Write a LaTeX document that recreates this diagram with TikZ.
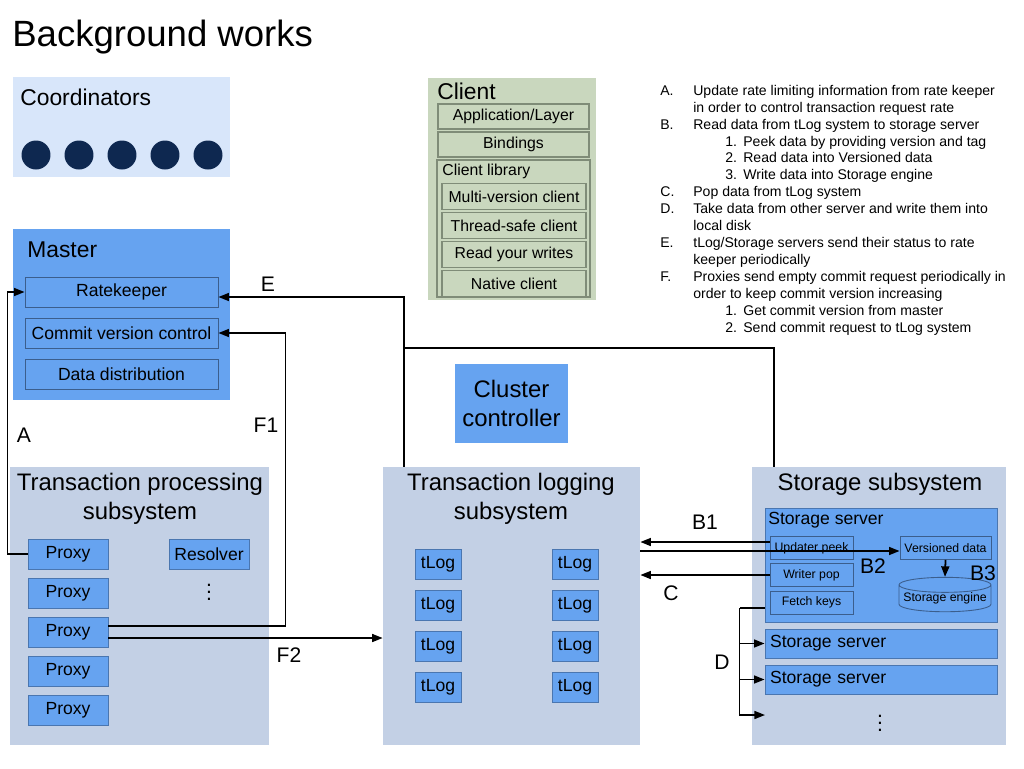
\documentclass[tikz,border=0pt]{standalone}
\usepackage{fontspec}
\setmainfont{Liberation Sans}
\usetikzlibrary{arrows.meta,positioning,shapes.geometric}
\definecolor{panelc}{HTML}{C3D0E5}
\definecolor{coordc}{HTML}{D8E6FA}
\definecolor{clientc}{HTML}{C9D7BE}
\definecolor{bluec}{HTML}{66A3F0}
\definecolor{bluel}{HTML}{4A76B0}
\definecolor{navyc}{HTML}{0E2850}
\definecolor{clinec}{HTML}{7F8C78}

\begin{document}
\begin{tikzpicture}[x=0.02cm, y=-0.02cm,
  blk/.style={fill=bluec, draw=bluel, line width=0.5pt, inner sep=0pt,
              font=\fontsize{10}{12}\selectfont},
  part/.style={draw=bluel!80!black, line width=0.5pt, inner sep=0pt,
               font=\fontsize{10}{12}\selectfont},
  cbox/.style={draw=clinec, line width=0.6pt, inner sep=0pt,
               font=\fontsize{9}{11}\selectfont},
  head/.style={anchor=west, inner sep=0pt, font=\fontsize{13}{15}\selectfont},
  big/.style={align=center, inner sep=0pt, font=\fontsize{13.6}{16.4}\selectfont},
  small/.style={font=\fontsize{7}{8.4}\selectfont},
  lab/.style={inner sep=0pt, font=\fontsize{12}{14}\selectfont},
  conn/.style={line width=1pt},
  >={Triangle[length=6pt,width=4.5pt]}]
\useasboundingbox (0,0) rectangle (1024,768);

\node[anchor=west, inner sep=0pt, font=\fontsize{20.8}{25}\selectfont] (title) at (12,37) {Background works};

% coordinators
\node[fill=coordc, minimum width=4.34cm, minimum height=2cm] (coords) at (121.5,127) {};
\node[head] (coordslbl) at (20,97) {Coordinators};
\foreach \i in {0,...,4}
  \node[circle, fill=navyc, minimum size=0.58cm, inner sep=0pt] (c\i) at (36+43*\i,155) {};

% master
\node[fill=bluec, minimum width=4.34cm, minimum height=3.42cm] (master) at (121.5,314.5) {};
\node[head] (masterlbl) at (27,250) {Master};
\node[part, minimum width=3.86cm, minimum height=0.6cm] (rate) at (121.5,292) {Ratekeeper};
\node[part, minimum width=3.86cm, minimum height=0.6cm] (commit) at (121.5,333) {Commit version control};
\node[part, minimum width=3.86cm, minimum height=0.6cm] (dist) at (121.5,374) {Data distribution};

% client
\node[fill=clientc, minimum width=3.36cm, minimum height=4.44cm] (client) at (512,189) {};
\node[head] (clientlbl) at (437,91) {Client};
\node[cbox, minimum width=3.02cm, minimum height=0.5cm] (app) at (513.5,116.5) {Application/Layer};
\node[cbox, minimum width=3.02cm, minimum height=0.5cm] (bind) at (513.5,144.5) {Bindings};
\node[cbox, minimum width=3.06cm, minimum height=2.74cm] (lib) at (513.5,228.5) {};
\node[anchor=west, inner sep=0pt, font=\fontsize{9}{11}\selectfont] (liblbl) at (442,171) {Client library};
\node[cbox, minimum width=2.88cm, minimum height=0.52cm] (mv) at (514,196.5) {Multi-version client};
\node[cbox, minimum width=2.88cm, minimum height=0.52cm] (ts) at (514,225.5) {Thread-safe client};
\node[cbox, minimum width=2.88cm, minimum height=0.52cm] (ryw) at (514,254.5) {Read your writes};
\node[cbox, minimum width=2.88cm, minimum height=0.52cm] (nat) at (514,283.5) {Native client};

% notes
\node[anchor=north west, inner sep=0pt, font=\fontsize{8}{9.64}\selectfont] (notes) at (660,83) {%
\begin{tabular}{@{}p{0.66cm}@{}p{1cm}@{}l@{}}
A. & \multicolumn{2}{@{}l@{}}{Update rate limiting information from rate keeper}\\
   & \multicolumn{2}{@{}l@{}}{in order to control transaction request rate}\\
B. & \multicolumn{2}{@{}l@{}}{Read data from tLog system to storage server}\\
   & \hspace*{0.64cm}1. & Peek data by providing version and tag\\
   & \hspace*{0.64cm}2. & Read data into Versioned data\\
   & \hspace*{0.64cm}3. & Write data into Storage engine\\
C. & \multicolumn{2}{@{}l@{}}{Pop data from tLog system}\\
D. & \multicolumn{2}{@{}l@{}}{Take data from other server and write them into}\\
   & \multicolumn{2}{@{}l@{}}{local disk}\\
E. & \multicolumn{2}{@{}l@{}}{tLog/Storage servers send their status to rate}\\
   & \multicolumn{2}{@{}l@{}}{keeper periodically}\\
F. & \multicolumn{2}{@{}l@{}}{Proxies send empty commit request periodically in}\\
   & \multicolumn{2}{@{}l@{}}{order to keep commit version increasing}\\
   & \hspace*{0.64cm}1. & Get commit version from master\\
   & \hspace*{0.64cm}2. & Send commit request to tLog system
\end{tabular}};

% cluster controller
\node[fill=bluec, big, minimum width=2.26cm, minimum height=1.58cm] (cc) at (511.5,403.5) {Cluster\\controller};

% transaction processing
\node[fill=panelc, minimum width=5.18cm, minimum height=5.56cm] (tps) at (139.5,606) {};
\node[big] (tpslbl) at (140,498.5) {Transaction processing\\subsystem};
\foreach \i/\y in {1/554,2/593,3/632,4/671,5/710}
  \node[blk, minimum width=1.6cm, minimum height=0.6cm] (p\i) at (68,\y) {Proxy};
\node[blk, minimum width=1.6cm, minimum height=0.6cm] (res) at (209,554) {Resolver};
\node[inner sep=0pt, font=\fontsize{12}{14}\selectfont] (resdots) at (209,587) {$\vdots$};

% transaction logging
\node[fill=panelc, minimum width=5.14cm, minimum height=5.56cm] (tls) at (511.5,606) {};
\node[big] (tlslbl) at (511,498.5) {Transaction logging\\subsystem};
\foreach \i/\y in {1/564,2/605,3/646,4/687} {
  \node[blk, minimum width=0.92cm, minimum height=0.6cm] (la\i) at (438,\y) {tLog};
  \node[blk, minimum width=0.92cm, minimum height=0.6cm] (lb\i) at (575,\y) {tLog};
}

% storage
\node[fill=panelc, minimum width=5.08cm, minimum height=5.56cm] (sts) at (879,606) {};
\node[big] (stslbl) at (880,484) {Storage subsystem};
\node[blk, minimum width=4.64cm, minimum height=2.28cm] (ss1) at (881,565) {};
\node[anchor=west, inner sep=0pt, font=\fontsize{10}{12}\selectfont] (ss1lbl) at (768,520) {Storage server};
\node[part, small, minimum width=1.66cm, minimum height=0.46cm] (upd) at (811.5,548) {Updater peek};
\node[part, small, minimum width=1.66cm, minimum height=0.46cm] (wpop) at (811.5,575) {Writer pop};
\node[part, small, minimum width=1.66cm, minimum height=0.46cm] (fetch) at (811.5,602.5) {Fetch keys};
\node[part, small, minimum width=1.82cm, minimum height=0.46cm] (ver) at (945.5,548) {Versioned data};
\node[part, small, cylinder, shape border rotate=90, aspect=0.18,
      minimum width=1.84cm, minimum height=0.62cm] (eng) at (945,598.5) {Storage engine};
\node[blk, minimum width=4.64cm, minimum height=0.58cm, text width=4.44cm, align=left] (ss2) at (881,643.5) {Storage server};
\node[blk, minimum width=4.64cm, minimum height=0.58cm, text width=4.44cm, align=left] (ss3) at (881,679.5) {Storage server};
\node[inner sep=0pt, font=\fontsize{12}{14}\selectfont] (ssdots) at (880,718) {$\vdots$};

% connectors
\coordinate (ejoin) at (404,348);
\coordinate (dmore) at (765,715);
\draw[conn,->] (p1.west) -- ++(-20,0) |- (rate.west);
\draw[conn,->] ([yshift=0.12cm]p3.east) -- ++(177,0) |- (commit.east);
\draw[conn,->] ([yshift=-0.12cm]p3.east) -- ([yshift=-0.12cm]p3.east -| tls.west);
\draw[conn,->] ([xshift=0.42cm]tls.north west) |- ([yshift=-0.1cm]rate.east);
\draw[conn] ([xshift=0.44cm]sts.north west) |- (ejoin);
\draw[conn,->] ([yshift=0.12cm]upd.west) -- ([yshift=0.12cm]upd.west -| tls.east);
\draw[conn,->] ([yshift=-0.06cm]ver.west -| tls.east) -- ([yshift=-0.06cm]ver.west);
\draw[conn,->] (wpop.west) -- (wpop.west -| tls.east);
\draw[conn,->] (ver.south) -- (eng.north);
\draw[conn] ([yshift=-0.86cm]ss1.west) -- ++(-25,0) coordinate (dtop);
\draw[conn,->] (dtop) |- (ss2.west);
\draw[conn,->] (dtop) |- (ss3.west);
\draw[conn,->] (dtop) |- (dmore);

% labels
\node[lab] (lblA) at (24,435) {A};
\node[lab] (lblF1) at (266,425) {F1};
\node[lab] (lblE) at (268,284) {E};
\node[lab] (lblF2) at (289,655) {F2};
\node[lab] (lblB1) at (705,522) {B1};
\node[lab] (lblC) at (671,593) {C};
\node[lab] (lblD) at (722,662) {D};
\node[lab] (lblB2) at (873,566) {B2};
\node[lab] (lblB3) at (983,573) {B3};
\end{tikzpicture}
\end{document}
